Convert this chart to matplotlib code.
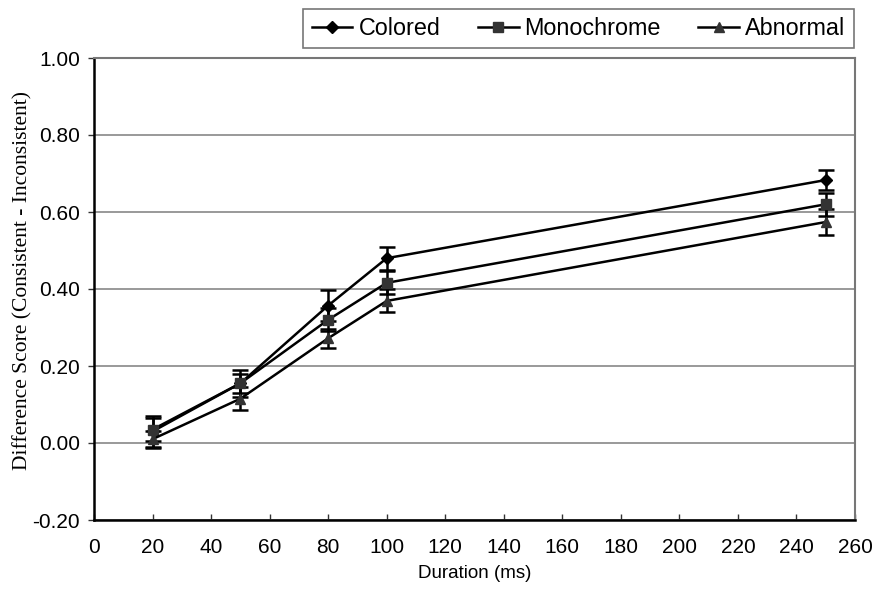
import matplotlib
matplotlib.use("Agg")
import matplotlib.pyplot as plt
from matplotlib.ticker import FormatStrFormatter
from matplotlib.lines import Line2D

durations = [20, 50, 80, 100, 250]
colored = [0.030, 0.155, 0.357, 0.480, 0.683]
colored_err = [0.040, 0.035, 0.040, 0.030, 0.027]
monochrome = [0.035, 0.155, 0.320, 0.416, 0.620]
monochrome_err = [0.030, 0.025, 0.030, 0.030, 0.030]
abnormal = [0.010, 0.115, 0.272, 0.369, 0.574]
abnormal_err = [0.022, 0.030, 0.025, 0.030, 0.034]
series_names = ["Colored", "Monochrome", "Abnormal"]

plt.rcParams['font.family'] = ['Liberation Sans', 'DejaVu Sans']

fig = plt.figure(figsize=(8.73, 5.90), dpi=100)
ax = fig.add_axes([94 / 873, 1 - 520 / 590, (855 - 94) / 873, (520 - 58) / 590])

specs = [
    (colored, colored_err, 'D', 6, '#000000'),
    (monochrome, monochrome_err, 's', 7, '#333333'),
    (abnormal, abnormal_err, '^', 7, '#333333'),
]
handles = []
for (vals, errs, mk, ms, mc), name in zip(specs, series_names):
    ax.errorbar(durations, vals, yerr=errs, color='black', lw=1.8,
                marker=mk, markersize=ms, markerfacecolor=mc,
                markeredgecolor=mc, ecolor='black', elinewidth=1.8,
                capsize=6, capthick=1.8, label=name, zorder=3)
    handles.append(Line2D([], [], color='black', lw=1.8, marker=mk,
                          markersize=ms, markerfacecolor=mc, markeredgecolor=mc))

ax.set_xlim(0, 260)
ax.set_ylim(-0.20, 1.00)
ax.set_xticks(range(0, 261, 20))
ax.set_yticks([-0.2, 0.0, 0.2, 0.4, 0.6, 0.8, 1.0])
ax.yaxis.set_major_formatter(FormatStrFormatter('%.2f'))
ax.grid(axis='y', color='#888888', lw=1.2, zorder=0)
ax.set_axisbelow(True)

for s in ['left', 'bottom']:
    ax.spines[s].set_color('black')
    ax.spines[s].set_linewidth(1.8)
for s in ['top', 'right']:
    ax.spines[s].set_color('#777777')
    ax.spines[s].set_linewidth(1.5)

ax.tick_params(axis='y', direction='out', length=4, width=1, colors='#333333',
               labelsize=15, labelcolor='black', pad=6)
ax.tick_params(axis='x', direction='in', length=4, width=1, colors='#333333',
               labelsize=15, labelcolor='black', pad=13)

ax.set_xlabel('Duration (ms)', fontsize=13.5, labelpad=6)
ax.set_ylabel('Difference Score (Consistent - Inconsistent)', fontsize=15.5,
              family=['Liberation Serif', 'DejaVu Serif'])
ax.yaxis.set_label_coords((32 - 94) / 761, (520 - 280) / 462)

leg = fig.legend(handles=handles, labels=series_names, loc='center',
                 bbox_to_anchor=(578.5 / 873, 1 - 28.5 / 590), ncol=3,
                 fontsize=16.8, frameon=True, fancybox=False, edgecolor='#555555',
                 handlelength=1.75, handletextpad=0.26, columnspacing=1.6,
                 borderpad=0.35, borderaxespad=0)
leg.get_frame().set_linewidth(1.2)

fig.savefig('out.png', dpi=100, facecolor='white')
